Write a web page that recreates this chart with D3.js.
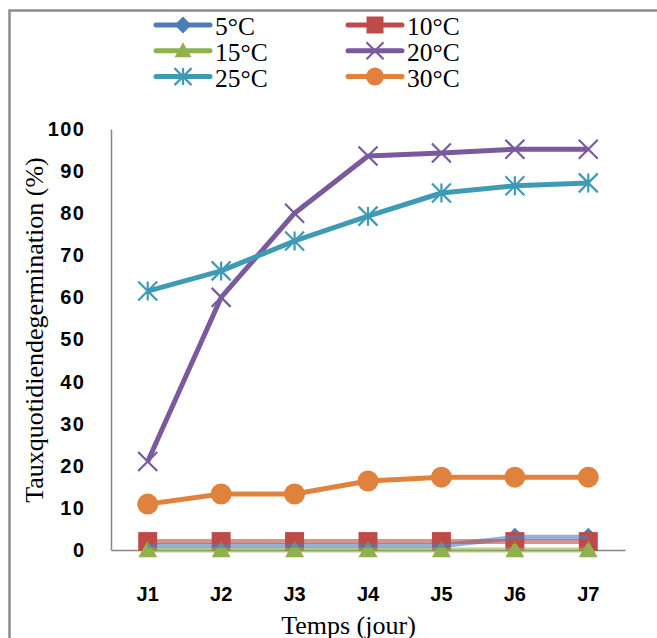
<!DOCTYPE html>
<html>
<head>
<meta charset="utf-8">
<script src="https://cdn.jsdelivr.net/npm/d3@7"></script>
<style>
  body { margin: 0; background: #fff; }
  svg { display: block; }
</style>
</head>
<body>
<div id="chart"></div>
<script>
// data
const days = ["J1", "J2", "J3", "J4", "J5", "J6", "J7"];
const yTicks = [0, 10, 20, 30, 40, 50, 60, 70, 80, 90, 100];
const t5 = [1, 1, 1, 1, 1, 3, 3];
const t10 = [2, 2, 2, 2, 2, 2, 2];
const t15 = [0, 0, 0, 0, 0, 0, 0];
const t20 = [21, 60, 80, 93.6, 94.3, 95.2, 95.2];
const t25 = [61.5, 66.3, 73.4, 79.3, 84.8, 86.5, 87.2];
const t30 = [10.9, 13.3, 13.3, 16.4, 17.3, 17.3, 17.3];
const seriesNames = ["5°C", "10°C", "15°C", "20°C", "25°C", "30°C"];

const series = [
    {name: seriesNames[0], values: t5,  color: "#4a7ebb", marker: "diamond", low: true},
    {name: seriesNames[1], values: t10, color: "#be4b48", marker: "square",  low: true},
    {name: seriesNames[2], values: t15, color: "#8fb24f", marker: "triangle", low: true},
    {name: seriesNames[3], values: t20, color: "#7a5a9c", marker: "x",       low: false},
    {name: seriesNames[4], values: t25, color: "#3f9ab5", marker: "star",    low: false},
    {name: seriesNames[5], values: t30, color: "#e0823d", marker: "circle",  low: false}
];

const W = 657, H = 638;
const margin = {top: 129, right: 32, bottom: 88, left: 111};

const svg = d3.select("#chart").append("svg")
    .attr("width", W)
    .attr("height", H);

// outer frame (only top and left edges are visible in the picture)
svg.append("rect")
    .attr("x", 9.5).attr("y", 10.5)
    .attr("width", W + 20).attr("height", H + 20)
    .attr("fill", "none")
    .attr("stroke", "#8c8c8c")
    .attr("stroke-width", 2.5);

const x = d3.scaleBand()
    .domain(days)
    .range([margin.left, W - margin.right]);

const y = d3.scaleLinear()
    .domain([0, 100])
    .range([H - margin.bottom, margin.top]);

// marker shapes
function markerPath(type, s) {
    let h = s / 2;
    if (type === "diamond") return `M0,${-h}L${h},0L0,${h}L${-h},0Z`;
    if (type === "square") return `M${-h},${-h}H${h}V${h}H${-h}Z`;
    if (type === "triangle") return `M0,${-h}L${h},${h * 0.75}L${-h},${h * 0.75}Z`;
    if (type === "x") return `M${-h},${-h}L${h},${h}M${h},${-h}L${-h},${h}`;
    if (type === "star") return `M${-h},${-h}L${h},${h}M${h},${-h}L${-h},${h}M0,${-h}V${h}`;
    return "";
}

function drawMarker(g, type, color, cx, cy, s) {
    if (type === "circle") {
        g.append("circle")
            .attr("cx", cx).attr("cy", cy).attr("r", s / 2)
            .attr("fill", color);
    } else if (type === "x" || type === "star") {
        g.append("path")
            .attr("d", markerPath(type, s))
            .attr("transform", `translate(${cx},${cy})`)
            .attr("fill", "none")
            .attr("stroke", color)
            .attr("stroke-width", 2.2);
    } else {
        g.append("path")
            .attr("d", markerPath(type, s))
            .attr("transform", `translate(${cx},${cy})`)
            .attr("fill", color);
    }
}

// axes
const yAxis = d3.axisLeft(y).tickValues(yTicks).tickSize(0).tickSizeOuter(0).tickPadding(25.5);
const xAxis = d3.axisBottom(x).tickSize(0).tickSizeOuter(0);

const gy = svg.append("g")
    .attr("transform", `translate(${margin.left},0)`)
    .call(yAxis);
gy.select(".domain").attr("stroke", "#868686").attr("stroke-width", 1.5);
gy.selectAll("text")
    .attr("font-family", "'Liberation Sans', Arial, sans-serif")
    .attr("font-weight", "bold")
    .attr("font-size", 20)
    .attr("letter-spacing", 1.5)
    .attr("fill", "#000");

const gx = svg.append("g")
    .attr("transform", `translate(0,${H - margin.bottom})`)
    .call(xAxis);
gx.select(".domain").attr("stroke", "#868686").attr("stroke-width", 1.5);
gx.selectAll("text")
    .attr("y", 51)
    .attr("dy", 0)
    .attr("font-family", "'Liberation Sans', Arial, sans-serif")
    .attr("font-weight", "bold")
    .attr("font-size", 20)
    .attr("fill", "#000");

const line = d3.line()
    .x((d, i) => x(days[i]) + x.bandwidth() / 2)
    .y(d => y(d));

const plot = svg.append("g");

// low series: markers first, then the faded lines on top
series.filter(s => s.low).forEach(s => {
    s.values.forEach((v, i) => {
        drawMarker(plot, s.marker, s.color, x(days[i]) + x.bandwidth() / 2, y(v), 19);
    });
});
series.filter(s => s.low).forEach(s => {
    plot.append("path")
        .datum(s.values)
        .attr("d", line)
        .attr("fill", "none")
        .attr("stroke", s.color)
        .attr("stroke-opacity", 0.6)
        .attr("stroke-width", 5)
        .attr("stroke-linejoin", "round");
});

// high series: solid line with markers
series.filter(s => !s.low).forEach(s => {
    plot.append("path")
        .datum(s.values)
        .attr("d", line)
        .attr("fill", "none")
        .attr("stroke", s.color)
        .attr("stroke-width", 5)
        .attr("stroke-linejoin", "round");
    s.values.forEach((v, i) => {
        drawMarker(plot, s.marker, s.color, x(days[i]) + x.bandwidth() / 2, y(v), s.marker === "circle" ? 21 : 19);
    });
});

// axis titles
svg.append("text")
    .attr("transform", "translate(43,330) rotate(-90)")
    .attr("text-anchor", "middle")
    .attr("font-family", "'Liberation Serif', 'Times New Roman', serif")
    .attr("font-size", 26)
    .text("Tauxquotidiendegermination (%)");

svg.append("text")
    .attr("x", 348.5)
    .attr("y", 634)
    .attr("text-anchor", "middle")
    .attr("font-family", "'Liberation Serif', 'Times New Roman', serif")
    .attr("font-size", 26)
    .text("Temps (jour)");

// legend, two columns
const legend = svg.append("g");
const colX = [156, 348];
const rowY = [25, 50.8, 76.6];
series.forEach((s, i) => {
    let lx = colX[i % 2], ly = rowY[Math.floor(i / 2)];
    let g = legend.append("g");
    g.append("line")
        .attr("x1", lx).attr("x2", lx + 54)
        .attr("y1", ly).attr("y2", ly)
        .attr("stroke", s.color)
        .attr("stroke-width", 5)
        .attr("stroke-linecap", "round");
    drawMarker(g, s.marker, s.color, lx + 27, ly, s.marker === "circle" ? 18 : 17);
    g.append("text")
        .attr("x", lx + 59)
        .attr("y", ly + 10)
        .attr("font-family", "'Liberation Serif', 'Times New Roman', serif")
        .attr("font-size", 25.5)
        .text(s.name);
});
</script>
</body>
</html>
